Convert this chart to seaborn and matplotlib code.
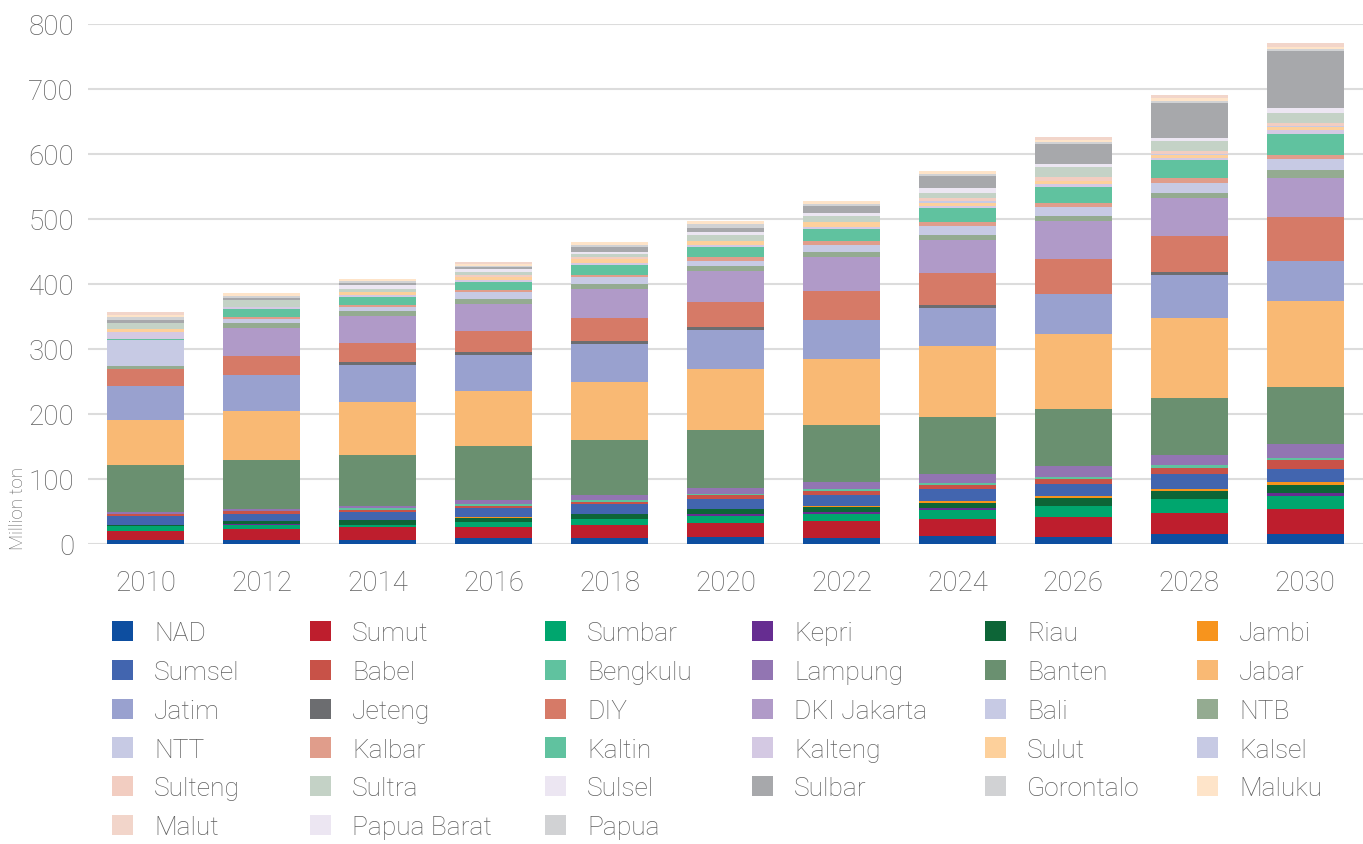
import matplotlib
matplotlib.use("Agg")
import matplotlib.pyplot as plt
from matplotlib.patches import Patch
import pandas as pd
import seaborn as sns

# ---------------- data ----------------
years = [2010, 2012, 2014, 2016, 2018, 2020, 2022, 2024, 2026, 2028, 2030]

provinces = ["NAD", "Sumut", "Sumbar", "Kepri", "Riau", "Jambi",
             "Sumsel", "Babel", "Bengkulu", "Lampung", "Banten", "Jabar",
             "Jatim", "Jeteng", "DIY", "DKI Jakarta", "Bali", "NTB",
             "NTT", "Kalbar", "Kaltin", "Kalteng", "Sulut", "Kalsel",
             "Sulteng", "Sultra", "Sulsel", "Sulbar", "Gorontalo", "Maluku",
             "Malut", "Papua Barat", "Papua"]

colors = ["#0D4EA0", "#BE1E2D", "#00A66E", "#662D91", "#0D6537", "#F7941D",
          "#4265AF", "#C85248", "#60C29F", "#9275B2", "#6A9070", "#F9B974",
          "#99A1CF", "#6C6D70", "#D67A67", "#B09AC8", "#C7CAE4", "#94AB91",
          "#C7CAE4", "#E09D8B", "#60C29F", "#D4C9E3", "#FDD09B", "#C7CAE4",
          "#F2CDC1", "#C4D2C6", "#ECE6F2", "#A7A8AB", "#D1D2D4", "#FEE4C9",
          "#F2D5CA", "#ECE6F2", "#D1D2D4"]

NAD         = [6.6, 6.2, 6.2, 9.2, 9.2, 11.3, 9.2, 12.3, 10.6, 14.9, 16.0]
Sumut       = [13.8, 16.9, 20.0, 16.9, 20.0, 21.5, 26.2, 26.2, 30.8, 33.5, 38.3]
Sumbar      = [7.1, 6.2, 3.1, 7.7, 9.2, 10.3, 10.8, 13.9, 17.0, 20.2, 20.2]
Kepri       = [0.0, 1.0, 0.0, 0.0, 0.0, 3.1, 3.1, 3.1, 0.0, 0.0, 3.7]
Riau        = [2.0, 4.6, 7.7, 6.2, 7.7, 7.7, 7.7, 7.7, 12.2, 13.3, 13.3]
Jambi       = [0.0, 0.0, 0.0, 1.5, 0.0, 0.0, 1.5, 3.1, 3.2, 2.7, 3.2]
Sumsel      = [13.3, 10.8, 12.3, 13.9, 15.4, 15.4, 16.9, 18.5, 18.6, 22.9, 21.3]
Babel       = [3.1, 4.6, 3.1, 3.1, 3.1, 6.2, 6.2, 6.2, 7.4, 9.0, 13.8]
Bengkulu    = [0.0, 0.0, 3.1, 3.1, 3.1, 1.5, 3.1, 3.1, 3.2, 5.3, 3.2]
Lampung     = [2.6, 3.1, 3.1, 6.2, 7.7, 9.2, 10.8, 13.9, 17.0, 14.4, 20.2]
Banten      = [73.0, 75.4, 78.5, 83.1, 84.6, 88.7, 87.7, 87.7, 87.7, 88.3, 88.3]
Jabar       = [70.0, 75.4, 81.6, 84.6, 89.3, 93.9, 101.6, 109.3, 115.9, 123.9, 132.9]
Jatim       = [52.0, 55.4, 57.0, 55.4, 58.5, 60.0, 60.0, 58.5, 61.1, 64.9, 61.7]
Jeteng      = [0.0, 0.0, 4.6, 4.6, 4.6, 4.6, 0.0, 4.6, 0.0, 4.8, 0.0]
DIY         = [26.0, 29.3, 29.2, 32.3, 35.4, 38.5, 44.6, 49.2, 53.2, 55.3, 66.5]
DKI_Jakarta = [0.0, 43.1, 41.6, 41.6, 45.1, 47.7, 52.3, 50.8, 58.5, 58.5, 61.1]
Bali        = [0.0, 0.0, 0.0, 0.0, 0.0, 0.0, 0.0, 0.0, 0.0, 0.0, 0.0]
NTB         = [5.1, 7.7, 7.7, 7.7, 7.7, 7.7, 7.7, 7.7, 8.0, 8.0, 11.7]
NTT         = [39.3, 6.2, 6.2, 10.8, 10.8, 7.7, 10.8, 13.9, 13.8, 15.4, 17.0]
Kalbar      = [0.0, 3.1, 3.1, 3.1, 3.1, 6.2, 6.2, 6.2, 6.4, 7.4, 5.3]
Kaltin      = [1.5, 12.3, 12.3, 12.3, 15.4, 15.4, 18.5, 21.5, 24.5, 28.2, 33.0]
Kalteng     = [11.2, 3.1, 3.1, 3.1, 3.1, 3.1, 3.1, 3.1, 5.3, 3.2, 6.4]
Sulut       = [3.6, 0.0, 4.6, 4.6, 6.2, 7.2, 7.7, 4.6, 4.8, 3.7, 4.3]
Kalsel      = [0.0, 0.0, 0.0, 0.0, 0.0, 0.0, 0.0, 3.1, 0.0, 2.7, 2.1]
Sulteng     = [0.0, 0.0, 0.0, 3.1, 2.1, 0.0, 0.0, 4.6, 5.3, 4.3, 4.3]
Sultra      = [10.2, 10.8, 4.6, 4.1, 4.6, 8.2, 9.2, 7.7, 15.4, 15.4, 15.4]
Sulsel      = [0.0, 0.0, 5.1, 5.1, 4.1, 4.6, 4.6, 7.7, 4.8, 4.3, 8.0]
Sulbar      = [4.1, 3.1, 3.1, 3.0, 6.7, 6.2, 10.8, 18.5, 30.8, 54.2, 87.7]
Gorontalo   = [4.1, 3.1, 3.1, 2.0, 2.6, 6.2, 3.1, 3.1, 3.2, 3.2, 3.2]
Maluku      = [4.1, 4.6, 4.1, 3.0, 4.6, 4.6, 4.6, 4.6, 3.2, 4.3, 3.2]
Malut       = [4.1, 0.0, 0.0, 2.0, 0.0, 0.0, 0.0, 0.0, 4.3, 4.8, 4.8]
Papua_Barat = [0.0] * 11
Papua       = [0.0] * 11

series = [NAD, Sumut, Sumbar, Kepri, Riau, Jambi, Sumsel, Babel, Bengkulu,
          Lampung, Banten, Jabar, Jatim, Jeteng, DIY, DKI_Jakarta, Bali, NTB,
          NTT, Kalbar, Kaltin, Kalteng, Sulut, Kalsel, Sulteng, Sultra, Sulsel,
          Sulbar, Gorontalo, Maluku, Malut, Papua_Barat, Papua]

yticks = [0, 100, 200, 300, 400, 500, 600, 700, 800]

# ---------------- plot ----------------
rows = []
for name, vals in zip(provinces, series):
    for yr, v in zip(years, vals):
        rows.append((name, yr, v))
df = pd.DataFrame(rows, columns=["province", "year", "value"])

sns.set_theme(style="white")
plt.rcParams["font.family"] = ["Roboto", "DejaVu Sans"]
plt.rcParams["font.weight"] = "light"

TXT = "#606060"
W, H = 1363, 845
fig = plt.figure(figsize=(W / 100, H / 100), dpi=100)
ax = fig.add_axes([88 / W, 1 - 545 / H, 1 - 88 / W, 520 / H])

palette = dict(zip(provinces, colors))
sns.histplot(data=df, x="year", weights="value", hue="province",
             hue_order=provinces[::-1], multiple="stack",
             binwidth=2, binrange=(2009, 2031), shrink=0.665,
             palette=palette, linewidth=0, alpha=1, legend=False, ax=ax)

ax.set_xlim(2009, 2031)
ax.set_ylim(0, 800)
ax.set_xticks(years)
ax.set_xticklabels([str(y) for y in years])
ax.set_yticks(yticks)
ax.set_yticklabels([str(t) for t in yticks])
ax.set_xlabel("")
ax.set_ylabel("")
for s in ax.spines.values():
    s.set_visible(False)
ax.yaxis.grid(True, color="#DCDCDC", linewidth=1.5)
ax.xaxis.grid(False)
ax.set_axisbelow(True)
ax.tick_params(axis="x", length=0, pad=18, labelsize=20, labelcolor=TXT)
ax.tick_params(axis="y", length=0, pad=10, labelsize=20, labelcolor=TXT)

fig.text(18 / W, 1 - 508 / H, "Million ton", rotation=90, ha="center",
         va="center", fontsize=13.5, color=TXT)

# legend: 6 columns, row-major order
col_x = [112, 310, 545, 752, 985, 1197]
ncol = 6
for c in range(ncol):
    idx = list(range(c, len(provinces), ncol))
    handles = [Patch(facecolor=colors[i], edgecolor="none") for i in idx]
    labels = [provinces[i] for i in idx]
    fig.legend(handles, labels, loc="upper left",
               bbox_to_anchor=(col_x[c] / W, 1 - 622 / H),
               bbox_transform=fig.transFigure, frameon=False,
               borderpad=0, borderaxespad=0, fontsize=19,
               handlelength=0.8, handleheight=0.8, handletextpad=0.8,
               labelspacing=0.55, labelcolor=TXT)

fig.savefig("out.png", dpi=100)
